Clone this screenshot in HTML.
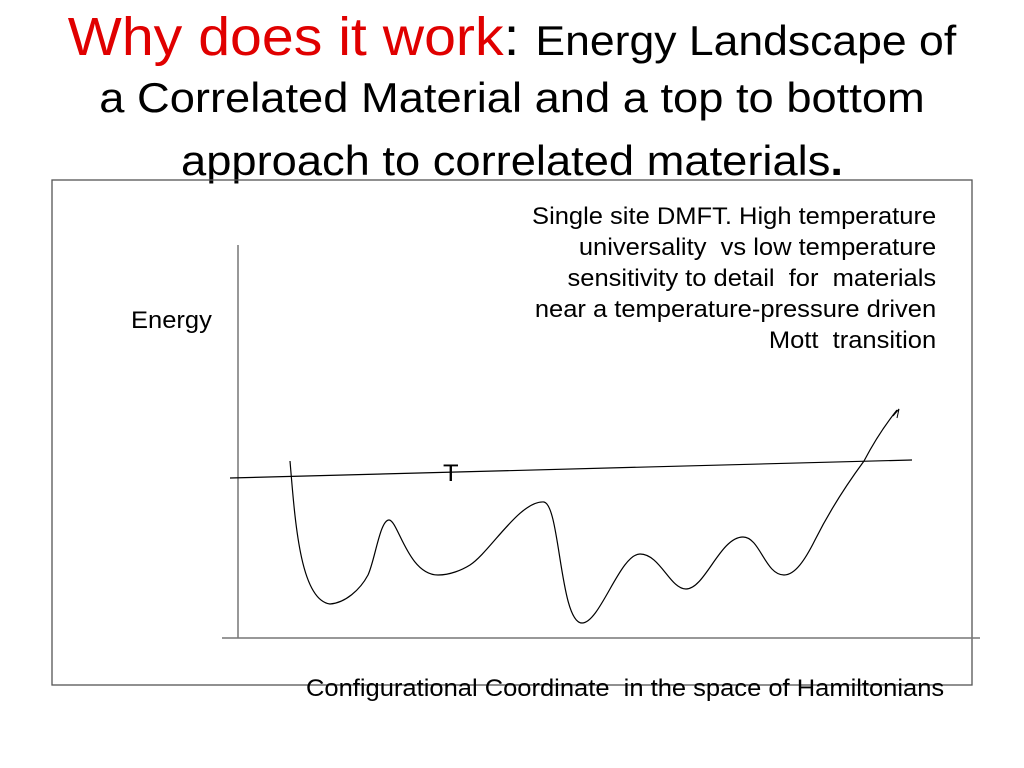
<!DOCTYPE html>
<html><head><style>
body{margin:0;width:1024px;height:768px;background:#fff;position:relative;overflow:hidden;font-family:"Liberation Sans",sans-serif;}
.t{position:absolute;left:0;width:1024px;text-align:center;color:#000;transform-origin:512px 0;white-space:nowrap;line-height:1;}
.s{position:absolute;white-space:nowrap;transform:scaleX(1.063);font-size:24px;line-height:31px;}
</style></head><body>
<div class="t" style="top:10px;font-size:54px;transform:scaleX(1.06);"><span style="color:#e00000">Why does it work</span>: <span style="font-size:42px">Energy Landscape of</span></div>
<div class="t" style="top:77px;font-size:42px;transform:scaleX(1.078);">a Correlated Material and a top to bottom</div>
<div class="t" style="top:140px;font-size:42px;transform:scaleX(1.078);">approach to correlated materials<b>.</b></div>
<svg width="1024" height="768" style="position:absolute;left:0;top:0">
<rect x="52" y="180" width="920" height="505" fill="none" stroke="#555" stroke-width="1.3"/>
<line x1="238" y1="245" x2="238" y2="638" stroke="#777" stroke-width="1.5"/>
<line x1="222" y1="638" x2="980" y2="638" stroke="#777" stroke-width="1.5"/>
<line x1="230" y1="478" x2="912" y2="460" stroke="#000" stroke-width="1.2"/>
<path d="M290,461 C295,520 300,600 330,604 C345,603 360,590 368,575 C375,560 380,520 389,520 C398,520 408,575 438,575 C450,575 462,570 470,565 C490,552 520,500 544,502 C560,505 560,623 582,623 C600,623 620,554 640,554 C660,554 670,589 686,589 C705,589 720,537 743,537 C760,537 765,575 784,575 C795,575 805,560 815,540 C830,510 850,480 864,461 C875,440 885,425 897,410" fill="none" stroke="#000" stroke-width="1.2"/>
<path d="M893,416 L899,409 L897,418" fill="none" stroke="#000" stroke-width="1"/>
</svg>
<div class="s" style="left:443px;top:458px;transform-origin:0 0;">T</div>
<div class="s" style="left:131px;top:305px;transform-origin:0 0;">Energy</div>
<div class="s" style="right:88px;top:201px;text-align:right;transform-origin:100% 0;">Single site DMFT. High temperature<br>universality&nbsp; vs low temperature<br>sensitivity to detail&nbsp; for&nbsp; materials<br>near a temperature-pressure driven<br>Mott&nbsp; transition</div>
<div class="s" style="left:306px;top:673px;transform-origin:0 0;">Configurational Coordinate&nbsp; in the space of Hamiltonians</div>
</body></html>
